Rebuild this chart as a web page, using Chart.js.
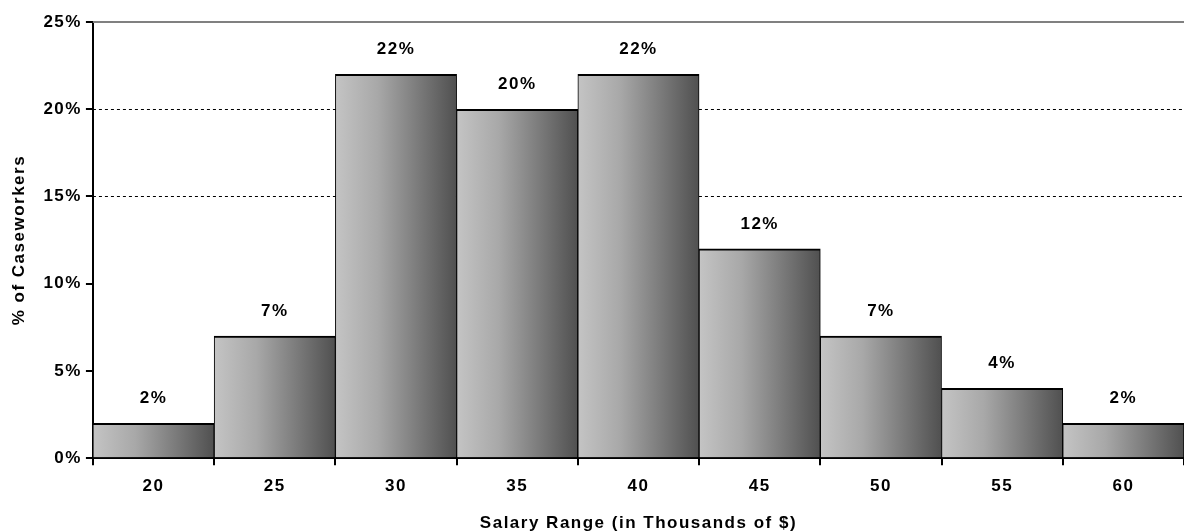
<!DOCTYPE html>
<html>
<head>
<meta charset="utf-8">
<script src="https://cdn.jsdelivr.net/npm/chart.js@4"></script>
<style>
  html, body { margin: 0; padding: 0; background: #fff; }
  #wrap { width: 1184px; height: 532px; }
</style>
</head>
<body>
<div id="wrap"><canvas id="salaryChart"></canvas></div>
<script>
// Répartition des salaires
const salaryLabels = ['20', '25', '30', '35', '40', '45', '50', '55', '60'];
const caseworkerPct = [2, 7, 22, 20, 22, 12, 7, 4, 2];
const yTicks = [0, 5, 10, 15, 20, 25];
const dashedLines = [15, 20];

const font = { family: 'Arial, "Liberation Sans", sans-serif', size: 17, weight: 'bold' };

function barGradient(ctx) {
  const chart = ctx.chart;
  if (!chart.chartArea) return '#999';
  const x = chart.scales.x;
  const c = x.getPixelForValue(ctx.dataIndex);
  const w = x.width / salaryLabels.length;
  const g = chart.ctx.createLinearGradient(c - w / 2, 0, c + w / 2, 0);
  g.addColorStop(0, '#c4c4c4');
  g.addColorStop(0.35, '#a8a8a8');
  g.addColorStop(1, '#505050');
  return g;
}

// texte un peu espacé comme l'original
const spacing = {
  id: 'spacing',
  beforeLayout(chart) { chart.ctx.letterSpacing = '1.5px'; },
  beforeDraw(chart) { chart.ctx.letterSpacing = '1.5px'; }
};

// lignes de grille pointillées + ligne du haut
const gridLines = {
  id: 'gridLines',
  beforeDatasetsDraw(chart) {
    const { ctx, chartArea, scales } = chart;
    ctx.save();
    ctx.lineWidth = 1;
    ctx.strokeStyle = '#000';
    ctx.setLineDash([3, 3]);
    dashedLines.forEach(v => {
      const y = Math.round(scales.y.getPixelForValue(v)) + 0.5;
      ctx.beginPath();
      ctx.moveTo(chartArea.left, y);
      ctx.lineTo(chartArea.right, y);
      ctx.stroke();
    });
    ctx.setLineDash([]);
    ctx.strokeStyle = '#808080';
    ctx.lineWidth = 2;
    const top = scales.y.getPixelForValue(25);
    ctx.beginPath();
    ctx.moveTo(chartArea.left, top);
    ctx.lineTo(chartArea.right, top);
    ctx.stroke();
    ctx.restore();
  }
};

// étiquettes au-dessus des barres
const barLabels = {
  id: 'barLabels',
  afterDatasetsDraw(chart) {
    const { ctx } = chart;
    const meta = chart.getDatasetMeta(0);
    ctx.save();
    ctx.font = 'bold 17px Arial, "Liberation Sans", sans-serif';
    ctx.fillStyle = '#000';
    ctx.textAlign = 'center';
    ctx.textBaseline = 'middle';
    meta.data.forEach((bar, i) => {
      ctx.fillText(caseworkerPct[i] + '%', bar.x, bar.y - 25);
    });
    ctx.restore();
  }
};

new Chart(document.getElementById('salaryChart'), {
  type: 'bar',
  data: {
    labels: salaryLabels,
    datasets: [{
      label: '% of Caseworkers',
      data: caseworkerPct,
      backgroundColor: barGradient,
      borderColor: '#000',
      borderWidth: { top: 2, left: 1, right: 1, bottom: 0 },
      borderSkipped: false,
      barPercentage: 1,
      categoryPercentage: 1
    }]
  },
  options: {
    responsive: true,
    maintainAspectRatio: false,
    animation: false,
    layout: { padding: { top: 22, right: 0, left: 9, bottom: -2 } },
    plugins: {
      legend: { display: false },
      tooltip: { enabled: false }
    },
    scales: {
      x: {
        offset: true,
        grid: { offset: true, drawOnChartArea: false, drawTicks: true, tickLength: 7, color: '#000', lineWidth: 2 },
        border: { display: true, color: '#000', width: 2 },
        ticks: { color: '#000', font: font, padding: 11 },
        title: { display: true, text: 'Salary Range (in Thousands of $)', color: '#000', font: font, padding: { top: 6, bottom: 0 } }
      },
      y: {
        min: 0,
        max: 25,
        afterBuildTicks(axis) { axis.ticks = yTicks.map(v => ({ value: v })); },
        grid: { drawOnChartArea: false, drawTicks: true, tickLength: 7, color: '#000', lineWidth: 2 },
        border: { display: true, color: '#000', width: 2 },
        ticks: { color: '#000', font: font, padding: 4, callback: v => v + '%' },
        title: { display: true, text: '% of Caseworkers', color: '#000', font: font, padding: { top: 0, bottom: 10 } }
      }
    }
  },
  plugins: [spacing, gridLines, barLabels]
});
</script>
</body>
</html>
